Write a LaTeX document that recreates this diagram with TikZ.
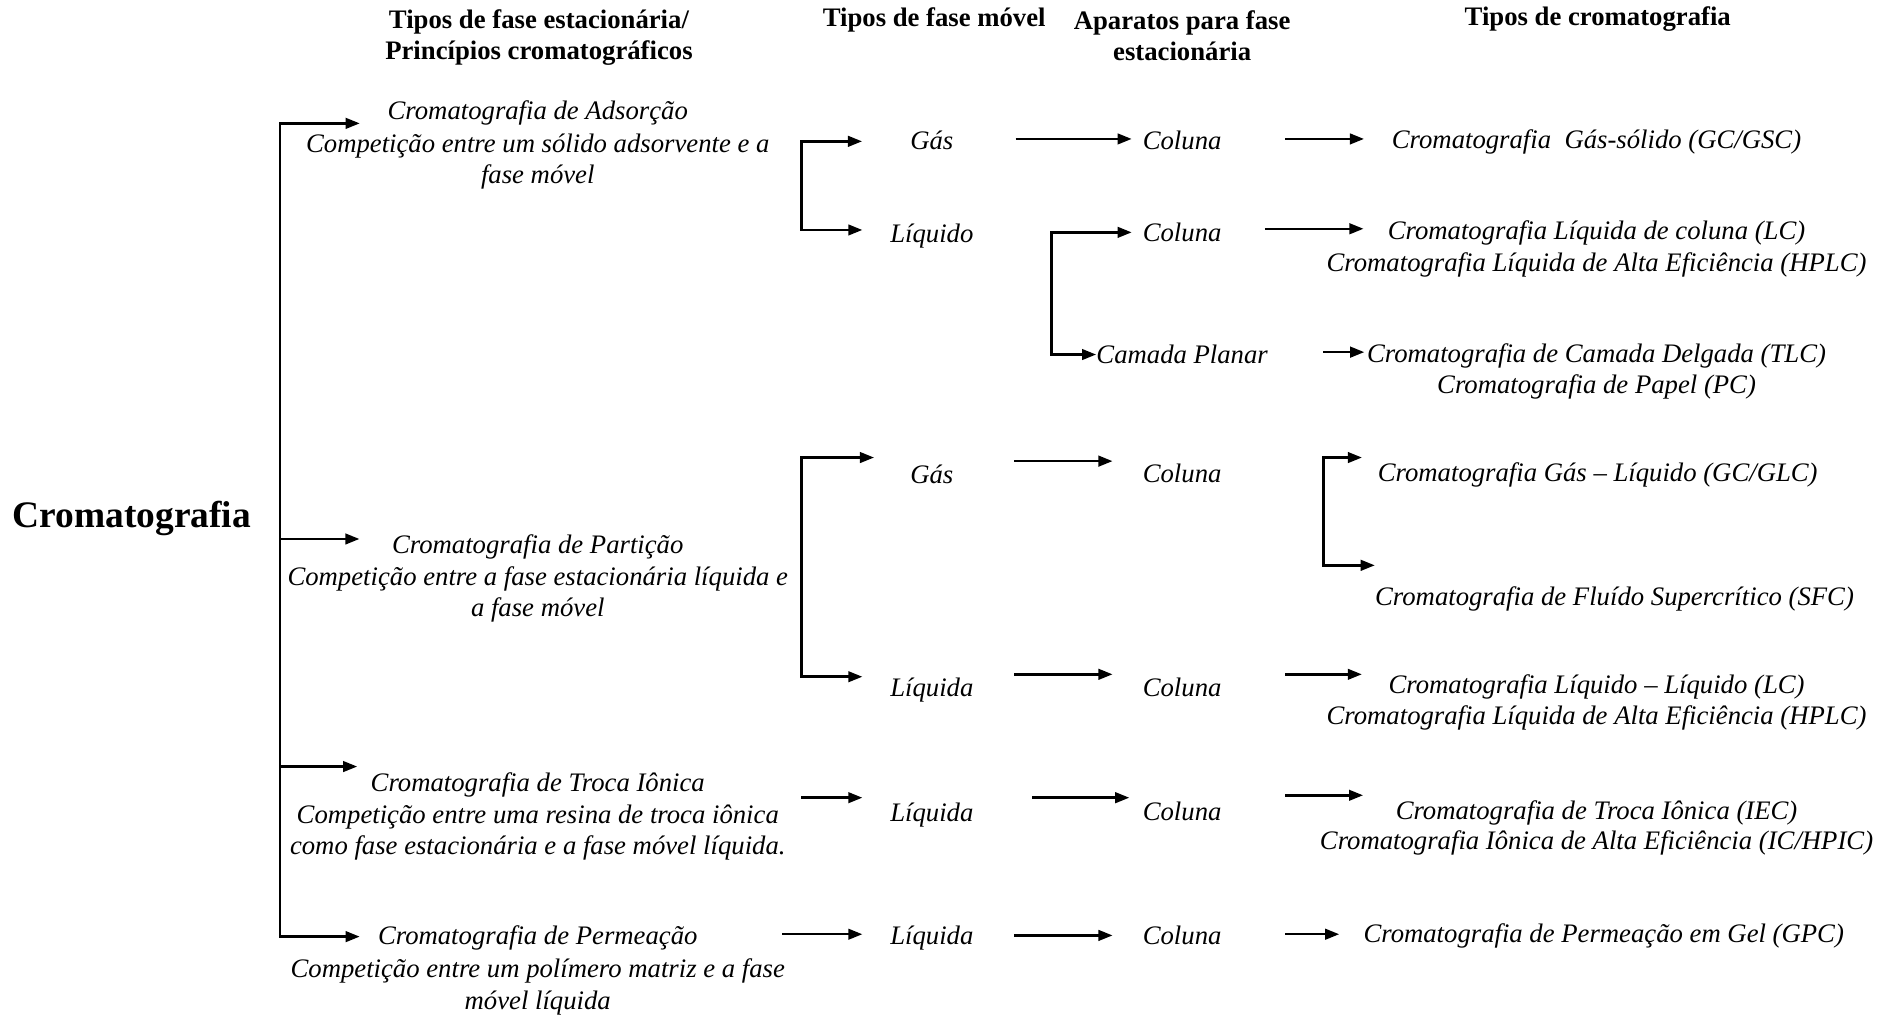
\documentclass[tikz,border=0pt]{standalone}
\usepackage{fontspec}
\setmainfont{Liberation Serif}
\usetikzlibrary{positioning, calc, arrows.meta}
\newlength{\Unit}
\setlength\Unit{0.023954cm}

\begin{document}
\begin{tikzpicture}[
    x = \Unit, y = -\Unit,
    > = {Triangle[length = 8pt, width = 6pt]},
    head/.style = {
      font = \bfseries\fontsize{15.2}{17.7}\selectfont,
      align = center, inner sep = 0pt
    },
    desc/.style = {
      font = \itshape\fontsize{15.2}{17.7}\selectfont,
      align = center, inner sep = 0pt
    },
    item/.style = {
      desc, text height = 0.95em, text depth = 0.15em
    },
    path/.style = {
      ->, line width = 1.4pt
    },
    branch/.style = {
      line width = 1.4pt, line cap = rect
    },
    ]
    \useasboundingbox (0,0) rectangle (1568,848);

    % column headers
    \node  [head]  (h-est)  at  (450,31)  {Tipos de fase estacionária/\\Princípios cromatográficos};
    \node  [head]  (h-mov)  at  (780,17)  {Tipos de fase móvel};
    \node  [head]  (h-apa)  at  (987,30)  {Aparatos para fase\\estacionária};
    \node  [head]  (h-tip)  at  (1334,16)  {Tipos de cromatografia};

    % root
    \node  [head, font = \bfseries\fontsize{21.3}{24}\selectfont]  (croma)  at  (110,433)  {Cromatografia};

    % principles
    \node  [item]  (ads)  at  (449,94)  {Cromatografia de Adsorção};
    \node  [desc]  (ads-d)  at  (449,135)  {Competição entre um sólido adsorvente e a\\fase móvel};
    \node  [item]  (part)  at  (449,456)  {Cromatografia de Partição};
    \node  [desc]  (part-d)  at  (449,496)  {Competição entre a fase estacionária líquida e\\a fase móvel};
    \node  [item]  (troca)  at  (449,655)  {Cromatografia de Troca Iônica};
    \node  [desc]  (troca-d)  at  (449,695)  {Competição entre uma resina de troca iônica\\como fase estacionária e a fase móvel líquida.};
    \node  [item]  (perm)  at  (449,783)  {Cromatografia de Permeação};
    \node  [desc]  (perm-d)  at  (449,824)  {Competição entre um polímero matriz e a fase\\móvel líquida};

    % mobile phases
    \foreach \name/\y/\txt in {gas1/119/Gás, liq1/197/Líquido, gas2/398/Gás,
                               liq2/576/Líquida, liq3/680/Líquida, liq4/783/Líquida}
    \node  [item]  (\name)  at  (778,\y)  {\txt};

    % apparatus
    \foreach \name/\y in {col1/119, col2/196, col3/397, col4/576, col5/679, col6/783}
    \node  [item]  (\name)  at  (987,\y)  {Coluna};
    \node  [item]  (planar)  at  (987,298)  {Camada Planar};

    % chromatography types
    \node  [item]  (gsc)  at  (1333,118)  {Cromatografia\ \ Gás-sólido (GC/GSC)};
    \node  [item]  (lc1)  at  (1333,194)  {Cromatografia Líquida de coluna (LC)};
    \node  [item]  (lc2)  at  (1333,221)  {Cromatografia Líquida de Alta Eficiência (HPLC)};
    \node  [item]  (tlc1)  at  (1333,297)  {Cromatografia de Camada Delgada (TLC)};
    \node  [item]  (tlc2)  at  (1333,323)  {Cromatografia de Papel (PC)};
    \node  [item]  (glc)  at  (1334,396)  {Cromatografia Gás -- Líquido (GC/GLC)};
    \node  [item]  (sfc)  at  (1348,500)  {Cromatografia de Fluído Supercrítico (SFC)};
    \node  [item]  (llc1)  at  (1333,573)  {Cromatografia Líquido -- Líquido (LC)};
    \node  [item]  (llc2)  at  (1333,599)  {Cromatografia Líquida de Alta Eficiência (HPLC)};
    \node  [item]  (iec1)  at  (1333,678)  {Cromatografia de Troca Iônica (IEC)};
    \node  [item]  (iec2)  at  (1333,703)  {Cromatografia Iônica de Alta Eficiência (IC/HPIC)};
    \node  [item]  (gpc)  at  (1339,781)  {Cromatografia de Permeação em Gel (GPC)};

    % branch points
    \coordinate  (tr-ads)  at  (234,103);
    \coordinate  (tr-part)  at  (234,450);
    \coordinate  (tr-troca)  at  (234,640);
    \coordinate  (tr-perm)  at  (234,782);
    \coordinate  (mv-gas1)  at  (669,118);
    \coordinate  (mv-liq1)  at  (669,192);
    \coordinate  (mv-gas2)  at  (669,382);
    \coordinate  (mv-liq2)  at  (669,565);
    \coordinate  (mv-liq3)  at  (669,666);
    \coordinate  (mv-liq4)  at  (653,780);
    \coordinate  (ap-col1)  at  (848,116);
    \coordinate  (ap-col2)  at  (878,194);
    \coordinate  (ap-planar)  at  (878,296);
    \coordinate  (ap-col3)  at  (847,385);
    \coordinate  (ap-col4)  at  (847,563);
    \coordinate  (ap-col5)  at  (862,666);
    \coordinate  (ap-col6)  at  (847,781);
    \coordinate  (tp-gsc)  at  (1073,116);
    \coordinate  (tp-lc)  at  (1056,191);
    \coordinate  (tp-tlc)  at  (1105,294);
    \coordinate  (tp-glc)  at  (1105,382);
    \coordinate  (tp-sfc)  at  (1105,472);
    \coordinate  (tp-llc)  at  (1073,563);
    \coordinate  (tp-iec)  at  (1073,664);
    \coordinate  (tp-gpc)  at  (1073,780);

    % draw vertical brackets
    \draw  [branch]  (tr-ads)  --  (tr-perm);
    \draw  [branch]  (mv-gas1)  --  (mv-liq1);
    \draw  [branch]  (mv-gas2)  --  (mv-liq2);
    \draw  [branch]  (ap-col2)  --  (ap-planar);
    \draw  [branch]  (tp-glc)  --  (tp-sfc);

    % draw arrows
    \foreach \from/\to/\gap in {tr-ads/ads/23, tr-part/part/27, tr-troca/troca/11, tr-perm/perm/15,
                                mv-gas1/gas1/40, mv-liq1/liq1/23, mv-gas2/gas2/30, mv-liq2/liq2/23,
                                mv-liq3/liq3/23, mv-liq4/liq4/23,
                                ap-col1/col1/9, ap-col2/col2/9, ap-planar/planar/0, ap-col3/col3/25,
                                ap-col4/col4/25, ap-col5/col5/11, ap-col6/col6/25,
                                tp-gsc/gsc/23, tp-lc/lc1/20, tp-tlc/tlc1/2, tp-glc/glc/13,
                                tp-sfc/sfc/0, tp-llc/llc1/22, tp-iec/iec1/27, tp-gpc/gpc/20}
    \draw  [path, shorten > = \gap\Unit]  (\from)  --  (\from -| \to.west);
\end{tikzpicture}
\end{document}
